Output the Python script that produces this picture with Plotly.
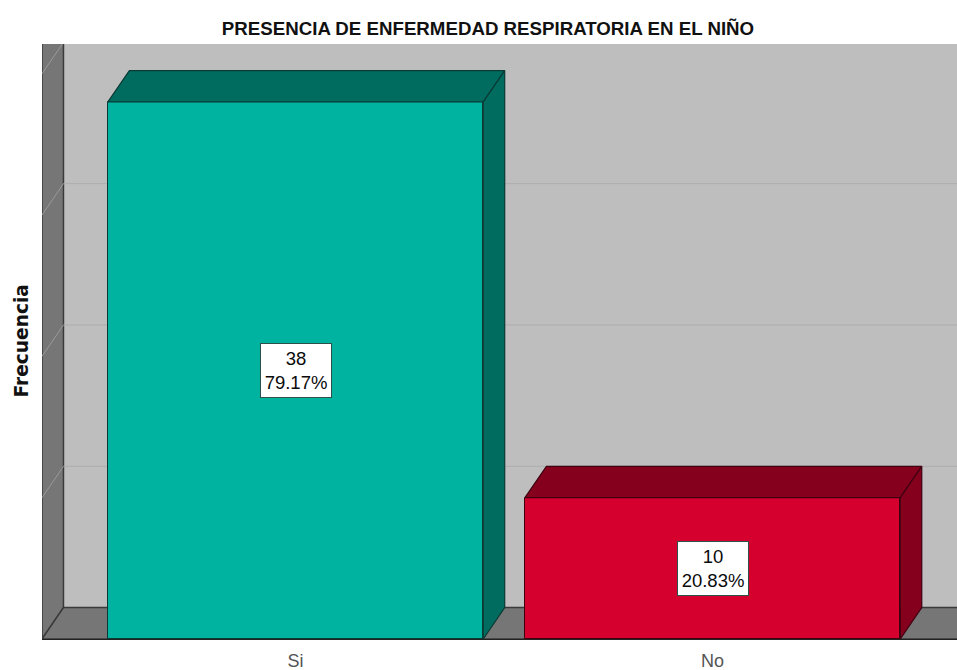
import plotly.graph_objects as go

# Datos de la tabla de frecuencias
categorias = ["Si", "No"]
frecuencias = [38, 10]
porcentajes = ["79.17%", "20.83%"]
ticks_frecuencia = [0, 10, 20, 30, 40]

color_frente = ["#00B3A0", "#D6002F"]
color_techo = ["#006C60", "#84001D"]
color_lado = ["#006C60", "#84001D"]
color_borde = ["#0A3A34", "#3F0010"]

# Geometria de la proyeccion 3D, en unidades de los ejes
ANCHO = 0.9
PROF_X = 0.0515
PROF_Y = 2.22
X_MIN, X_MAX = -0.608, 1.586
Y_MAX = 42.1

posiciones = list(range(len(categorias)))


def ruta(puntos):
    return "M" + " L".join(f"{x},{y}" for x, y in puntos) + " Z"


formas = [
    # pared del fondo
    dict(type="rect", x0=X_MIN + PROF_X, x1=X_MAX + 1, y0=PROF_Y, y1=Y_MAX + 5,
         fillcolor="#BEBEBE", line=dict(width=0), layer="below"),
    # pared izquierda
    dict(type="path",
         path=ruta([(X_MIN, 0), (X_MIN + PROF_X, PROF_Y), (X_MIN + PROF_X, Y_MAX + 5), (X_MIN, Y_MAX + 5)]),
         fillcolor="#767676", line=dict(width=1.5, color="#3A3A3A"), layer="below"),
    # suelo
    dict(type="path",
         path=ruta([(X_MIN, 0), (X_MIN + PROF_X, PROF_Y), (X_MAX + 1, PROF_Y), (X_MAX + 1, 0)]),
         fillcolor="#767676", line=dict(width=1.5, color="#3A3A3A"), layer="below"),
]

# Lineas de cuadricula en el fondo y sus diagonales en la pared
for t in ticks_frecuencia[1:]:
    formas.append(dict(type="line", x0=X_MIN + PROF_X, x1=X_MAX + 1, y0=t + PROF_Y, y1=t + PROF_Y,
                       line=dict(color="#ADADAD", width=1), layer="below"))
    formas.append(dict(type="line", x0=X_MIN, x1=X_MIN + PROF_X, y0=t, y1=t + PROF_Y,
                       line=dict(color="#9A9A9A", width=1), layer="below"))

fig = go.Figure()

# Caras frontales
fig.add_trace(go.Bar(
    x=posiciones, y=frecuencias, width=ANCHO,
    marker=dict(color=color_frente, line=dict(color=color_borde, width=1)),
    hoverinfo="skip", showlegend=False,
))

# Caras superior y lateral de cada barra
for pos, valor, techo, lado, borde in zip(posiciones, frecuencias, color_techo, color_lado, color_borde):
    izq, der = pos - ANCHO / 2, pos + ANCHO / 2
    fig.add_trace(go.Scatter(
        x=[izq, izq + PROF_X, der + PROF_X, der, izq],
        y=[valor, valor + PROF_Y, valor + PROF_Y, valor, valor],
        mode="lines", fill="toself", fillcolor=techo,
        line=dict(color=borde, width=1.2), hoverinfo="skip", showlegend=False,
    ))
    fig.add_trace(go.Scatter(
        x=[der, der + PROF_X, der + PROF_X, der, der],
        y=[0, PROF_Y, valor + PROF_Y, valor, 0],
        mode="lines", fill="toself", fillcolor=lado,
        line=dict(color=borde, width=1.2), hoverinfo="skip", showlegend=False,
    ))

# Etiquetas de frecuencia y porcentaje
anotaciones = [
    dict(x=pos, y=valor / 2, xref="x", yref="y", text=f"{valor}<br>{pct}", showarrow=False,
         font=dict(family="Liberation Sans", size=18.5, color="#0A0A0A"),
         bgcolor="white", bordercolor="#2F4F4A", borderwidth=1, width=68, height=51, align="center")
    for pos, valor, pct in zip(posiciones, frecuencias, porcentajes)
]

# Rotulo del eje de frecuencias
anotaciones.append(dict(
    text="<b>Frecuencia</b>", textangle=-90, showarrow=False,
    xref="paper", yref="paper", x=0, y=0.5, xanchor="center", yanchor="middle", xshift=-21,
    font=dict(size=18.6, color="#111111", family="DejaVu Sans"),
))

fig.update_layout(
    width=957, height=670,
    margin=dict(l=42, r=0, t=44, b=31),
    paper_bgcolor="white", plot_bgcolor="#BEBEBE",
    font=dict(family="Liberation Sans"),
    title=dict(text="PRESENCIA DE ENFERMEDAD RESPIRATORIA EN EL NIÑO",
               x=488 / 957, xanchor="center", y=1 - 28 / 670, yanchor="middle",
               font=dict(size=18.7, color="#111111", family="Liberation Sans", weight="bold")),
    shapes=formas, annotations=anotaciones, bargap=0,
    xaxis=dict(range=[X_MIN, X_MAX], tickvals=posiciones, ticktext=categorias, automargin=False,
               showgrid=False, zeroline=False, showline=True, linecolor="#222222", linewidth=1,
               ticks="outside", ticklen=5, tickcolor="rgba(255,255,255,0)",
               tickfont=dict(size=18, color="#555555", family="Liberation Sans")),
    yaxis=dict(range=[0, Y_MAX], tickvals=ticks_frecuencia, showticklabels=False, showgrid=False,
               zeroline=False, ticks="", automargin=False),
)

fig.write_html("out.html", config=dict(displayModeBar=False))
